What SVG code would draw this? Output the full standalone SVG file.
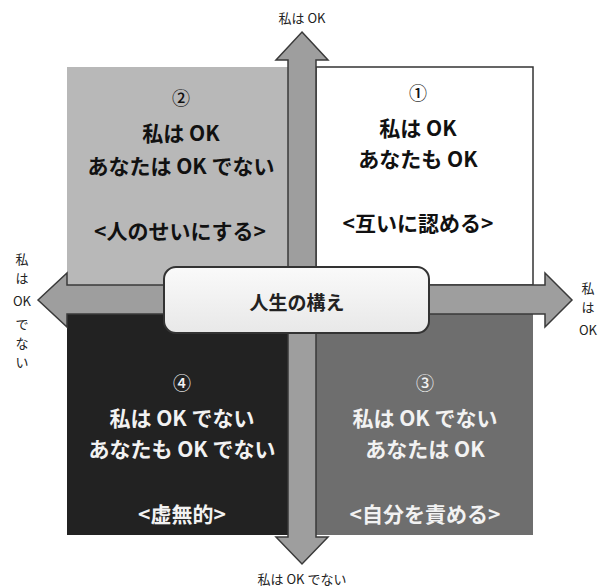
<svg xmlns="http://www.w3.org/2000/svg" width="609" height="586" viewBox="0 0 609 586">
<style>
text{font-family:"Noto Sans CJK JP","Noto Sans",sans-serif;text-anchor:middle;dominant-baseline:central}
.q{font-size:21px;font-weight:bold}
.num{font-size:18px;font-weight:500}
.dk{fill:#111}
.lt{fill:#f2f2f2}
.ax{font-size:13px;fill:#222}
.arrow{fill:#9e9e9e;stroke:#3a3a3a;stroke-width:1.5;stroke-linejoin:miter}
</style>
<defs>
<linearGradient id="boxg" x1="0" y1="0" x2="0" y2="1">
<stop offset="0" stop-color="#fafafa"/>
<stop offset="1" stop-color="#e8e8e8"/>
</linearGradient>
</defs>
<rect width="609" height="586" fill="#fff"/>
<g id="q2">
<rect x="67" y="67" width="221" height="218" fill="#b8b8b8"/>
<text class="num dk" x="181" y="97">②</text>
<text class="q dk" x="181" y="132">私は OK</text>
<text class="q dk" x="181" y="165">あなたは OK でない</text>
<text class="q dk" x="180" y="230">&lt;人のせいにする&gt;</text>
</g>
<g id="q1">
<rect x="316" y="67" width="217" height="218" fill="#fff" stroke="#333" stroke-width="1.5"/>
<text class="num dk" x="418" y="92">①</text>
<text class="q dk" x="418" y="127">私は OK</text>
<text class="q dk" x="418" y="158">あなたも OK</text>
<text class="q dk" x="418" y="222">&lt;互いに認める&gt;</text>
</g>
<g id="q4">
<rect x="67" y="314" width="221" height="221" fill="#222"/>
<text class="num lt" x="182" y="382">④</text>
<text class="q lt" x="182" y="417">私は OK でない</text>
<text class="q lt" x="182" y="448">あなたも OK でない</text>
<text class="q lt" x="182" y="513">&lt;虚無的&gt;</text>
</g>
<g id="q3">
<rect x="316" y="314" width="217" height="221" fill="#6e6e6e"/>
<text class="num lt" x="425" y="382">③</text>
<text class="q lt" x="425" y="417">私は OK でない</text>
<text class="q lt" x="425" y="448">あなたは OK</text>
<text class="q lt" x="425" y="513">&lt;自分を責める&gt;</text>
</g>
<g id="connectors">
<path class="arrow" d="M302,32 L328,60 L316,60 L316,537 L328,537 L302,564 L276,537 L288,537 L288,60 L276,60 Z"/>
<path class="arrow" d="M38,300 L67,273 L67,285 L545,285 L545,273 L572,300 L545,327 L545,314 L67,314 L67,327 Z"/>
</g>
<g id="center">
<rect x="164" y="267" width="265" height="66" rx="12" fill="url(#boxg)" stroke="#333" stroke-width="2"/>
<text x="297" y="301" style="font-size:19px;font-weight:bold;fill:#222">人生の構え</text>
</g>
<g id="label-top"><text class="ax" x="302" y="17">私は OK</text></g>
<g id="label-bottom"><text class="ax" x="302" y="578">私は OK でない</text></g>
<g id="label-left">
<text class="ax" x="22" y="258">私</text>
<text class="ax" x="22" y="277">は</text>
<text class="ax" x="22" y="300">OK</text>
<text class="ax" x="22" y="323">で</text>
<text class="ax" x="22" y="342">な</text>
<text class="ax" x="22" y="361">い</text>
</g>
<g id="label-right">
<text class="ax" x="588" y="287">私</text>
<text class="ax" x="588" y="306">は</text>
<text class="ax" x="588" y="329">OK</text>
</g>
</svg>
